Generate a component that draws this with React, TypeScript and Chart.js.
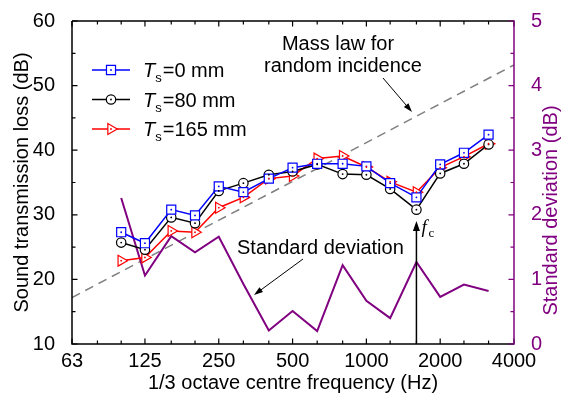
import React, { useEffect, useRef } from 'react';
import { Chart, registerables } from 'chart.js';
Chart.register(...registerables);

// ---- data ----
const freqs = [100, 125, 160, 200, 250, 315, 400, 500, 630, 800, 1000, 1250, 1600, 2000, 2500, 3150];
const stl0 = [27.3, 25.6, 30.8, 29.9, 34.4, 33.5, 35.6, 37.3, 37.9, 37.9, 37.5, 34.9, 32.7, 37.8, 39.6, 42.4];
const stl80 = [25.7, 24.6, 29.6, 28.7, 33.7, 34.9, 36.2, 36.7, 37.8, 36.3, 36.2, 34.0, 30.8, 36.4, 37.9, 40.9];
const stl165 = [22.9, 23.4, 27.5, 27.3, 31.1, 32.7, 35.6, 36.0, 38.7, 39.1, 37.4, 35.1, 33.5, 37.3, 39.0, 41.0];
const stdDev = [2.26, 1.06, 1.67, 1.42, 1.66, 0.93, 0.21, 0.51, 0.2, 1.22, 0.67, 0.4, 1.27, 0.73, 0.92, 0.82];
const massLawFreqs = [63, 4000];
const massLawValues = [17.2, 53.2];
const xMajorTicks = [63, 125, 250, 500, 1000, 2000, 4000];
const xMinorTicks = [80, 100, 160, 200, 315, 400, 630, 800, 1250, 1600, 2500, 3150];
const yMajorTicks = [10, 20, 30, 40, 50, 60];
const yMinorTicks = [15, 25, 35, 45, 55];
const y1MajorTicks = [0, 1, 2, 3, 4, 5];
const y1MinorTicks = [0.5, 1.5, 2.5, 3.5, 4.5];
const legendLabels = ['=0 mm', '=80 mm', '=165 mm'];
const criticalFreq = 1600;

const BLUE = '#0000ff';
const BLACK = '#000000';
const RED = '#ff0000';
const PURPLE = '#800080';
const GRAY = '#808080';
const FONT = 'Arial, "Liberation Sans", sans-serif';
const FS = 20;

function drawArrow(ctx: CanvasRenderingContext2D, x1: number, y1: number, x2: number, y2: number, head = 9, half = 3, lw = 1) {
  const a = Math.atan2(y2 - y1, x2 - x1);
  const c = Math.cos(a), s = Math.sin(a);
  ctx.lineWidth = lw;
  ctx.beginPath();
  ctx.moveTo(x1, y1);
  ctx.lineTo(x2 - c * head * 0.7, y2 - s * head * 0.7);
  ctx.stroke();
  ctx.beginPath();
  ctx.moveTo(x2, y2);
  ctx.lineTo(x2 - c * head - s * half, y2 - s * head + c * half);
  ctx.lineTo(x2 - c * head + s * half, y2 - s * head - c * half);
  ctx.closePath();
  ctx.fill();
}

function drawMarker(ctx: CanvasRenderingContext2D, style: string, x: number, y: number, r: number, color: string) {
  ctx.save();
  ctx.strokeStyle = color;
  ctx.fillStyle = '#fff';
  ctx.lineWidth = 1.2;
  ctx.beginPath();
  if (style === 'rect') {
    const h = r * Math.SQRT1_2;
    ctx.rect(x - h, y - h, 2 * h, 2 * h);
  } else if (style === 'circle') {
    ctx.arc(x, y, r, 0, Math.PI * 2);
  } else {
    ctx.moveTo(x + r, y);
    ctx.lineTo(x - r / 2, y + r * Math.sqrt(3) / 2);
    ctx.lineTo(x - r / 2, y - r * Math.sqrt(3) / 2);
    ctx.closePath();
  }
  ctx.fill();
  ctx.stroke();
  ctx.fillStyle = color;
  ctx.beginPath();
  ctx.arc(x, y, 0.9, 0, Math.PI * 2);
  ctx.fill();
  ctx.restore();
}

const decorPlugin = {
  id: 'decor',
  afterDatasetsDraw(chart: any) {
    const { ctx, chartArea: ca, scales } = chart;
    const sx = scales.x, sy = scales.y, sy1 = scales.y1;
    ctx.save();
    // centre dots of markers
    chart.data.datasets.forEach((ds: any, i: number) => {
      if (!ds.centerDot) return;
      const meta = chart.getDatasetMeta(i);
      ctx.fillStyle = ds.borderColor;
      meta.data.forEach((pt: any) => {
        ctx.beginPath();
        ctx.arc(pt.x, pt.y, 0.9, 0, Math.PI * 2);
        ctx.fill();
      });
    });
    // frame
    ctx.lineWidth = 1.5;
    ctx.strokeStyle = BLACK;
    ctx.beginPath();
    ctx.moveTo(ca.left, ca.top);
    ctx.lineTo(ca.right, ca.top);
    ctx.moveTo(ca.left, ca.top);
    ctx.lineTo(ca.left, ca.bottom);
    ctx.lineTo(ca.right, ca.bottom);
    ctx.stroke();
    ctx.lineWidth = 1.2;
    ctx.beginPath();
    const xt = (v: number, len: number) => {
      const p = sx.getPixelForValue(v);
      ctx.moveTo(p, ca.bottom);
      ctx.lineTo(p, ca.bottom - len);
      ctx.moveTo(p, ca.top);
      ctx.lineTo(p, ca.top + len);
    };
    xMajorTicks.forEach((v) => xt(v, 5.5));
    xMinorTicks.forEach((v) => xt(v, 3.5));
    const yt = (v: number, len: number) => {
      const p = sy.getPixelForValue(v);
      ctx.moveTo(ca.left, p);
      ctx.lineTo(ca.left + len, p);
    };
    yMajorTicks.forEach((v) => yt(v, 5.5));
    yMinorTicks.forEach((v) => yt(v, 3.5));
    ctx.stroke();
    // right axis (purple)
    ctx.strokeStyle = PURPLE;
    ctx.lineWidth = 1.5;
    ctx.beginPath();
    ctx.moveTo(ca.right, ca.top - 0.75);
    ctx.lineTo(ca.right, ca.bottom + 0.75);
    ctx.stroke();
    ctx.lineWidth = 1.2;
    ctx.beginPath();
    const rt = (v: number, len: number) => {
      const p = sy1.getPixelForValue(v);
      ctx.moveTo(ca.right, p);
      ctx.lineTo(ca.right - len, p);
    };
    y1MajorTicks.forEach((v) => rt(v, 5.5));
    y1MinorTicks.forEach((v) => rt(v, 3.5));
    ctx.stroke();
    ctx.restore();
  },
  afterDraw(chart: any) {
    const { ctx, chartArea: ca, scales } = chart;
    const sx = scales.x;
    ctx.save();
    // right axis title
    ctx.save();
    ctx.translate(551, (ca.top + ca.bottom) / 2 + 28);
    ctx.rotate(-Math.PI / 2);
    ctx.fillStyle = PURPLE;
    ctx.font = `${FS}px ${FONT}`;
    ctx.textAlign = 'center';
    ctx.textBaseline = 'middle';
    ctx.fillText('Standard deviation (dB)', 0, 0);
    ctx.restore();

    // legend
    const ds = chart.data.datasets;
    const styles = ['rect', 'circle', 'triangle'];
    const radii = [6.4, 4.7, 6.3];
    for (let i = 0; i < 3; i++) {
      const yy = ca.top + 49 + i * 29.5;
      const x0 = ca.left + 20, x1 = ca.left + 58;
      ctx.strokeStyle = ds[i].borderColor;
      ctx.lineWidth = 1.5;
      ctx.beginPath();
      ctx.moveTo(x0, yy);
      ctx.lineTo(x1, yy);
      ctx.stroke();
      drawMarker(ctx, styles[i], (x0 + x1) / 2, yy, radii[i], ds[i].borderColor);
      let tx = ca.left + 71;
      const base = yy + 7;
      ctx.fillStyle = BLACK;
      ctx.textBaseline = 'alphabetic';
      ctx.textAlign = 'left';
      ctx.font = `italic ${FS}px ${FONT}`;
      ctx.fillText('T', tx, base);
      tx += ctx.measureText('T').width;
      ctx.font = `13px ${FONT}`;
      ctx.fillText('s', tx, base + 5);
      tx += ctx.measureText('s').width + 1;
      ctx.font = `${FS}px ${FONT}`;
      ctx.fillText(legendLabels[i], tx, base);
    }

    // annotations
    ctx.fillStyle = BLACK;
    ctx.strokeStyle = BLACK;
    ctx.font = `${FS}px ${FONT}`;
    ctx.textAlign = 'center';
    ctx.textBaseline = 'alphabetic';
    ctx.fillText('Mass law for', 338, 50);
    ctx.fillText('random incidence', 343, 72);
    drawArrow(ctx, 383, 78, 412, 112, 9, 3, 1);

    ctx.textAlign = 'left';
    ctx.fillText('Standard deviation', 237, 254);
    drawArrow(ctx, 303, 259, 254, 295, 9, 3, 1);

    const fx = sx.getPixelForValue(criticalFreq);
    ctx.fillStyle = BLACK;
    drawArrow(ctx, fx, ca.bottom, fx, 221, 10, 3.5, 1.5);
    ctx.font = `italic 19px "Liberation Serif", "Times New Roman", serif`;
    ctx.fillText('f', fx + 5, 233);
    ctx.font = `13px "Liberation Serif", "Times New Roman", serif`;
    ctx.fillText('c', fx + 12, 237);
    ctx.restore();
  },
};

export default function App() {
  const ref = useRef<HTMLCanvasElement>(null);
  useEffect(() => {
    const toXY = (vals: number[]) => freqs.map((f, i) => ({ x: f, y: vals[i] }));
    const chart = new Chart(ref.current!, {
      type: 'line',
      data: {
        datasets: [
          {
            label: 'Ts=0 mm', data: toXY(stl0), borderColor: BLUE, backgroundColor: '#fff',
            pointStyle: 'rect', pointRadius: 6.4, pointBorderWidth: 1.2, borderWidth: 1.5, yAxisID: 'y', centerDot: true,
          } as any,
          {
            label: 'Ts=80 mm', data: toXY(stl80), borderColor: BLACK, backgroundColor: '#fff',
            pointStyle: 'circle', pointRadius: 4.7, pointBorderWidth: 1.2, borderWidth: 1.5, yAxisID: 'y', centerDot: true,
          } as any,
          {
            label: 'Ts=165 mm', data: toXY(stl165), borderColor: RED, backgroundColor: '#fff',
            pointStyle: 'triangle', pointRotation: 90, pointRadius: 6.3, pointBorderWidth: 1.2, borderWidth: 1.5, yAxisID: 'y', centerDot: true,
          } as any,
          {
            label: 'Standard deviation', data: toXY(stdDev), borderColor: PURPLE, borderWidth: 2,
            pointRadius: 0, yAxisID: 'y1',
          },
          {
            label: 'Mass law', data: massLawFreqs.map((f, i) => ({ x: f, y: massLawValues[i] })),
            borderColor: GRAY, borderWidth: 1.5, borderDash: [9, 6], pointRadius: 0, yAxisID: 'y',
          },
        ],
      },
      options: {
        responsive: false,
        animation: false,
        events: [],
        layout: { padding: { top: 18, left: 0, right: 0, bottom: 0 } },
        plugins: { legend: { display: false }, tooltip: { enabled: false } },
        scales: {
          x: {
            type: 'logarithmic', min: 63, max: 4000,
            grid: { display: false }, border: { display: false },
            afterBuildTicks: (s: any) => { s.ticks = xMajorTicks.map((v) => ({ value: v })); },
            afterFit: (s: any) => { s.height = 59; },
            ticks: {
              autoSkip: false, maxRotation: 0, minRotation: 0, padding: -3, color: BLACK,
              font: { family: FONT, size: FS }, callback: (v: any) => String(v),
            },
            title: {
              display: true, text: '1/3 octave centre frequency (Hz)', color: BLACK,
              font: { family: FONT, size: FS }, padding: { top: 0, bottom: 8 },
            },
          },
          y: {
            type: 'linear', position: 'left', min: 10, max: 60,
            grid: { display: false }, border: { display: false },
            afterBuildTicks: (s: any) => { s.ticks = yMajorTicks.map((v) => ({ value: v })); },
            afterFit: (s: any) => { s.width = 72; },
            ticks: { padding: 9, color: BLACK, font: { family: FONT, size: FS } },
            title: {
              display: true, text: 'Sound transmission loss (dB)', color: BLACK,
              font: { family: FONT, size: FS }, padding: { top: 10, bottom: 0 },
            },
          },
          y1: {
            type: 'linear', position: 'right', min: 0, max: 5,
            grid: { display: false }, border: { display: false },
            afterBuildTicks: (s: any) => { s.ticks = y1MajorTicks.map((v) => ({ value: v })); },
            afterFit: (s: any) => { s.width = 51; },
            ticks: { padding: 9, color: PURPLE, font: { family: FONT, size: FS } },
          },
        },
      } as any,
      plugins: [decorPlugin],
    });
    return () => chart.destroy();
  }, []);
  return (
    <div style={{ position: 'absolute', left: 0, top: 0, width: 565, height: 403, background: '#fff' }}>
      <canvas ref={ref} width={565} height={403} style={{ width: 565, height: 403, display: 'block' }} />
    </div>
  );
}
